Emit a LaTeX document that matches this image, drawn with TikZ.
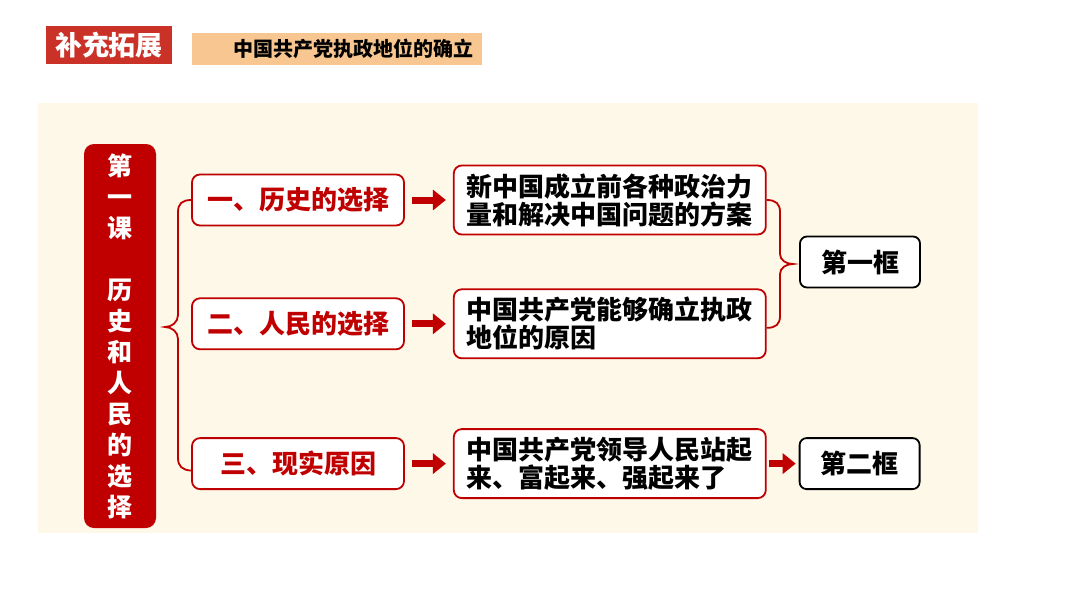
\documentclass[tikz,border=0pt]{standalone}
\usepackage{fontspec}
\setmainfont{Noto Sans CJK SC}[BoldFont={Noto Sans CJK SC Black}]
\usetikzlibrary{positioning}
\usetikzlibrary{calc}
\usetikzlibrary{arrows.meta}

\definecolor{headred}{HTML}{CA3228}
\definecolor{deepred}{HTML}{C00000}
\definecolor{titleorange}{HTML}{F8C690}
\definecolor{panelcream}{HTML}{FDF8E8}

\begin{document}
\begin{tikzpicture}[x=1pt, y=-1pt,
    choicebox/.style={rectangle, rounded corners=8pt, draw=deepred, line width=1.8pt, fill=white, minimum width=212pt, minimum height=51pt, text=deepred, font=\fontsize{26}{28}\selectfont\bfseries},
    reasonbox/.style={rectangle, rounded corners=8pt, draw=deepred, line width=1.8pt, fill=white, minimum width=312pt, minimum height=69pt, text width=286pt, align=left, font=\fontsize{26}{28}\selectfont\bfseries},
    framebox/.style={rectangle, rounded corners=7pt, draw=black, line width=1.8pt, fill=white, minimum width=120pt, minimum height=51pt, font=\fontsize{26}{28}\selectfont\bfseries},
    bigarrow/.style={draw=deepred, line width=7pt, -{Triangle[length=13pt, width=20pt]}, shorten <=7pt, shorten >=7pt},
    bracered/.style={draw=deepred, line width=1.8pt},
  ]

  \useasboundingbox (0,0) rectangle (1080,608);

  % heading
  \node [fill=headred, minimum width=126pt, minimum height=38pt, text=white, font=\fontsize{27}{30}\selectfont\bfseries] (H) at (109,45) {补充拓展};
  \node [fill=titleorange, minimum width=290pt, minimum height=32pt, inner xsep=9pt, text width=272pt, align=right, font=\fontsize{20}{22}\selectfont\bfseries] (T) at (337,49) {中国共产党执政地位的确立};

  % panel
  \node [fill=panelcream, minimum width=940pt, minimum height=430pt] (P) at (508,318) {};

  % lesson
  \node [fill=deepred, rounded corners=10pt, minimum width=72pt, minimum height=384pt, text=white, align=center, font=\fontsize{25}{31}\selectfont\bfseries] (L) at (120,336) {第\\一\\课\\[31pt]历\\史\\和\\人\\民\\的\\选\\择};

  % three choices
  \node [choicebox] (B1) at (298,200) {一、历史的选择};
  \node [choicebox, below=71pt of B1] (B2) {二、人民的选择};
  \node [choicebox, below=87pt of B2] (B3) {三、现实原因};

  \node [reasonbox, right=48pt of B1] (C1) {新中国成立前各种政治力\\量和解决中国问题的方案};
  \node [reasonbox, right=48pt of B2] (C2) {中国共产党能够确立执政\\地位的原因};
  \node [reasonbox, right=48pt of B3] (C3) {中国共产党领导人民站起\\来、富起来、强起来了};

  \node [framebox] (K1) at (860,262) {第一框};
  \node [framebox, right=32pt of C3] (K2) {第二框};

  \draw [bigarrow] (B1) -- (C1);
  \draw [bigarrow] (B2) -- (C2);
  \draw [bigarrow] (B3) -- (C3);
  \draw [bigarrow, shorten <=2pt, shorten >=3pt] (C3) -- (K2);

  % braces
  \draw [bracered] (B1.west) .. controls (182,200) and (178,204) .. (178,212) -- (178,315) .. controls (178,322) and (172,327) .. (165,327) .. controls (172,327) and (178,332) .. (178,339) -- (178,458) .. controls (178,466) and (182,470) .. ($(B3.west)+(0,7)$);
  \draw [bracered] (C1.east) .. controls (776,200) and (780,204) .. (780,212) -- (780,254) .. controls (780,260) and (786,264) .. (793,264) .. controls (786,264) and (780,268) .. (780,274) -- (780,316) .. controls (780,324) and (776,328) .. ($(C2.east)+(0,4)$);

\end{tikzpicture}
\end{document}
